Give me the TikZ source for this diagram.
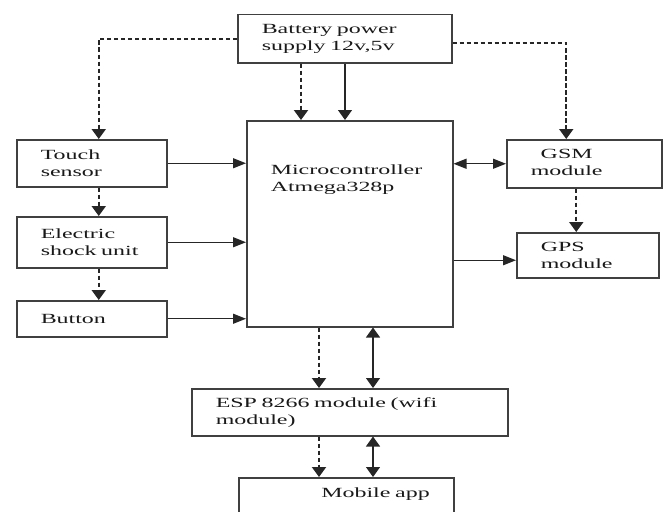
\documentclass[tikz,border=0pt]{standalone}
\usepackage{fontspec}
\setmainfont{Liberation Serif}[FakeStretch=1.71]
\usetikzlibrary{arrows.meta}

\begin{document}
\begin{tikzpicture}[x=1pt,y=-1pt,
  box/.style 2 args={draw=black!75, line width=1.5pt, anchor=north west,
    inner xsep=24pt, inner ysep=0pt, minimum width=#1pt, minimum height=#2pt,
    text width=#1pt-48pt, align=left, text=black!90,
    font=\fontsize{14}{17}\selectfont},
  link/.style={draw=black!85, line width=1.2pt},
  dlink/.style={link, line width=2pt, dash pattern=on 4.5pt off 2.5pt},
  hend/.tip={Triangle[length=13pt,width=10pt]},
  vend/.tip={Triangle[length=10pt,width=14pt]}]
\clip (0,0) rectangle (668,511);
% blocks
\node[box={214}{48}] (battery) at (237,14) {Battery power\\supply 12v,5v};
\node[box={206}{206}, text height=54pt, text depth=152pt] (mcu) at (246,120) {Microcontroller\\Atmega328p};
\node[box={150}{47}] (touch) at (16,139) {Touch\\sensor};
\node[box={150}{51}] (shock) at (16,216) {Electric\\shock unit};
\node[box={150}{36}] (button) at (16,300) {Button};
\node[box={155}{48}] (gsm) at (506,139) {\begin{tabular}{@{}c@{}}GSM\\module\end{tabular}};
\node[box={142}{45}] (gps) at (516,232) {GPS\\module};
\node[box={316}{47}] (esp) at (191,388) {ESP 8266 module (wifi\\module)};
\node[box={215}{46}, align=right, text height=20pt, text depth=26pt] (app) at (238,477) {Mobile app};
% tap points
\coordinate (pwrA) at ([xshift=64pt]battery.south west);
\coordinate (pwrB) at ([xshift=108pt]battery.south west);
\coordinate (espA) at ([xshift=73pt]mcu.south west);
\coordinate (espB) at ([xshift=127pt]mcu.south west);
\coordinate (gpsin) at ([yshift=-5pt]gps.west);
% power lines
\draw[dlink,-{vend}] (battery.west) -| ([xshift=7pt]touch.north);
\draw[dlink,-{vend}] ([yshift=-4pt]battery.east) -| ([xshift=-18pt]gsm.north);
\draw[dlink,-{vend}] (pwrA) -- (pwrA |- mcu.north);
\draw[link,-{vend}] (pwrB) -- (pwrB |- mcu.north);
% inputs
\draw[link,-{hend}] (touch.east) -- (touch.east -| mcu.west);
\draw[link,-{hend}] (shock.east) -- (shock.east -| mcu.west);
\draw[link,-{hend}] (button.east) -- (button.east -| mcu.west);
\draw[dlink,-{vend}] ([xshift=7pt]touch.south) -- ([xshift=7pt]shock.north);
\draw[dlink,-{vend}] ([xshift=7pt]shock.south) -- ([xshift=7pt]button.north);
% outputs
\draw[link,{hend}-{hend}] (gsm.west -| mcu.east) -- (gsm.west);
\draw[link,-{hend}] (gpsin -| mcu.east) -- (gpsin);
\draw[dlink,-{vend}] ([xshift=-8pt]gsm.south) -- ([xshift=-11.5pt]gps.north);
\draw[dlink,-{vend}] (espA) -- (espA |- esp.north);
\draw[link,{vend}-{vend}] (espB) -- (espB |- esp.north);
\draw[dlink,-{vend}] (espA |- esp.south) -- (espA |- app.north);
\draw[link,{vend}-{vend}] (espB |- esp.south) -- (espB |- app.north);
\end{tikzpicture}
\end{document}
